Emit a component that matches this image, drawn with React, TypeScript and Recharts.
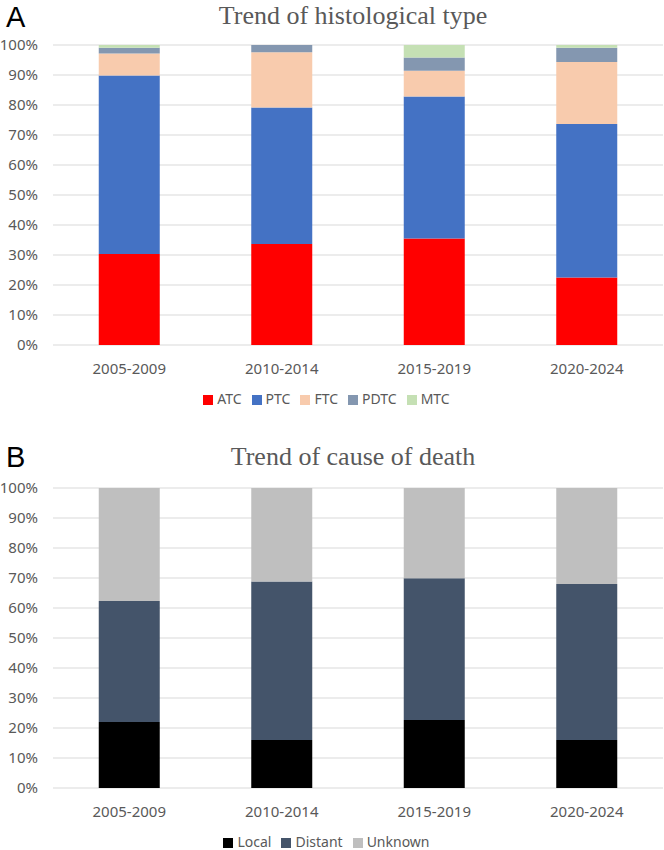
import React from "react";
import { Bar, BarChart, CartesianGrid, Legend, XAxis, YAxis } from "recharts";

// periods shared by both panels
const periods = ["2005-2009", "2010-2014", "2015-2019", "2020-2024"];

// panel A: histological type, % of cases per period
const atc = [30.3, 33.7, 35.5, 22.5];
const ptc = [59.5, 45.5, 47.3, 51.2];
const ftc = [7.4, 18.4, 8.6, 20.6];
const pdtc = [1.9, 2.4, 4.4, 4.8];
const mtc = [0.9, 0, 4.2, 0.9];

// panel B: cause of death, % per period
const local = [22.0, 16.0, 22.7, 16.0];
const distant = [40.3, 52.8, 47.2, 52.0];
const unknown = [37.7, 31.2, 30.1, 32.0];

const percentTicks = [0, 0.1, 0.2, 0.3, 0.4, 0.5, 0.6, 0.7, 0.8, 0.9, 1];

const histRows = periods.map((period, i) => ({
  period,
  ATC: atc[i],
  PTC: ptc[i],
  FTC: ftc[i],
  PDTC: pdtc[i],
  MTC: mtc[i]
}));

const deathRows = periods.map((period, i) => ({
  period,
  Local: local[i],
  Distant: distant[i],
  Unknown: unknown[i]
}));

const histSeries = [
  { key: "ATC", color: "#FF0000" },
  { key: "PTC", color: "#4472C4" },
  { key: "FTC", color: "#F8CBAD" },
  { key: "PDTC", color: "#8497B0" },
  { key: "MTC", color: "#C5E0B4" }
];

const deathSeries = [
  { key: "Local", color: "#000000" },
  { key: "Distant", color: "#44546A" },
  { key: "Unknown", color: "#BFBFBF" }
];

const gray = "#595959";
const sans = "'Noto Sans', sans-serif";

function StackedPanel({ rows, series }: { rows: any[]; series: { key: string; color: string }[] }) {
  const order = series.map((s) => s.key);
  return (
    <BarChart
      width={664}
      height={417}
      data={rows}
      stackOffset="expand"
      barCategoryGap="30%"
      margin={{ top: 45, right: 1, bottom: 0, left: 0 }}
      style={{ fontFamily: sans }}
    >
      <CartesianGrid vertical={false} stroke="#D9D9D9" />
      <XAxis
        dataKey="period"
        axisLine={false}
        tickLine={false}
        height={44}
        tickMargin={12}
        tick={{ fontSize: 15, fill: gray }}
      />
      <YAxis
        width={53}
        domain={[0, 1]}
        ticks={percentTicks}
        axisLine={false}
        tickLine={false}
        tickMargin={9}
        tick={{ fontSize: 15, fill: gray }}
        tickFormatter={(v: number) => `${Math.round(v * 100)}%`}
      />
      <Legend
        height={28}
        iconType="square"
        iconSize={10}
        itemSorter={(item: any) => order.indexOf(item.value)}
        wrapperStyle={{ fontSize: 14 }}
        formatter={(value: string) => <span style={{ color: gray }}>{value}</span>}
      />
      {series.map((s) => (
        <Bar key={s.key} dataKey={s.key} stackId="a" fill={s.color} isAnimationActive={false} />
      ))}
    </BarChart>
  );
}

const titleStyle: React.CSSProperties = {
  position: "absolute",
  left: 48,
  width: 610,
  textAlign: "center",
  fontFamily: "'Liberation Serif', serif",
  fontSize: 26,
  lineHeight: "30px",
  color: gray
};

const letterStyle: React.CSSProperties = {
  position: "absolute",
  left: 6,
  fontFamily: "'Liberation Sans', sans-serif",
  fontSize: 29,
  lineHeight: "29px",
  color: "#000"
};

export default function App() {
  return (
    <div style={{ position: "absolute", left: 0, top: 0, width: 664, height: 850, overflow: "hidden", background: "#fff" }}>
      <div style={{ position: "absolute", left: 0, top: 0 }}>
        <StackedPanel rows={histRows} series={histSeries} />
      </div>
      <div style={{ ...letterStyle, top: 3 }}>A</div>
      <div style={{ ...titleStyle, top: 1 }}>Trend of histological type</div>

      <div style={{ position: "absolute", left: 0, top: 443 }}>
        <StackedPanel rows={deathRows} series={deathSeries} />
      </div>
      <div style={{ ...letterStyle, top: 443 }}>B</div>
      <div style={{ ...titleStyle, top: 442 }}>Trend of cause of death</div>
    </div>
  );
}
